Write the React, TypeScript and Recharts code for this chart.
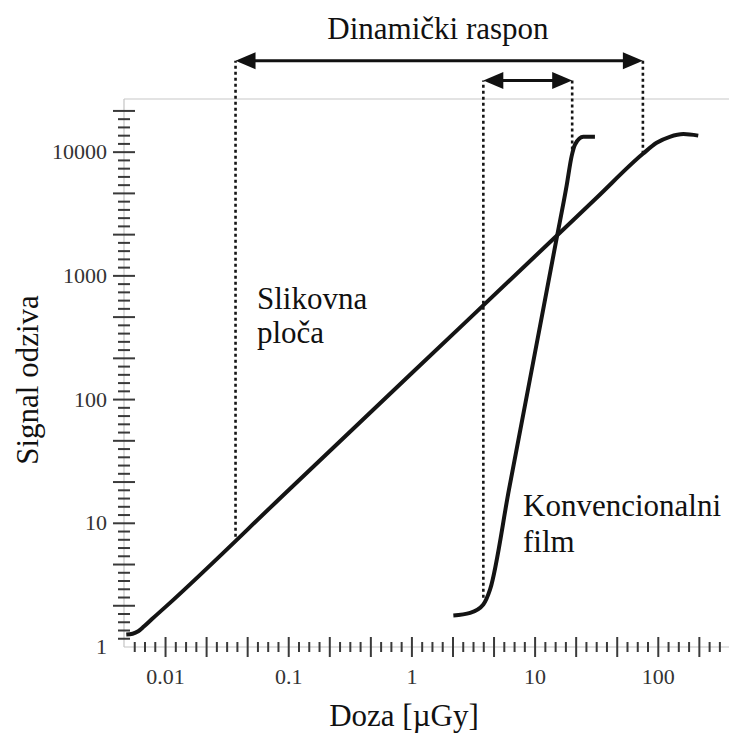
import React from 'react';
import { LineChart, Line, XAxis, YAxis, ReferenceLine } from 'recharts';

// Slikovna ploča (image plate) – doza [µGy] / signal
const PLATE_DOSE = [0.0048, 0.0054, 0.006, 0.0067, 0.0078, 0.01, 0.1, 1, 10, 31.6, 75, 97, 124, 160, 211];
const PLATE_SIGNAL = [1.26, 1.28, 1.34, 1.47, 1.69, 2.11, 18.6, 164, 1440, 4280, 9700, 11900, 13300, 14000, 13600];

// Konvencionalni film
const FILM_DOSE = [2.17, 2.97, 3.8, 4.31, 6.14, 9.08, 14.9, 18.0, 19.8, 21.1, 24.6, 30.6];
const FILM_SIGNAL = [1.8, 1.89, 2.21, 2.92, 18.8, 146, 1970, 5310, 9290, 11540, 13310, 13310];

// dynamic range markers: [doseFrom, doseTo], foot of each dashed line, arrow level
const PLATE_RANGE = [0.037, 75];
const PLATE_FOOT = [7.8, 9700];
const FILM_RANGE = [3.8, 20];
const FILM_FOOT = [2.5, 10500];
const ARROW_LEVEL = [54700, 38000];

const X_LABELS = [0.01, 0.1, 1, 10, 100];
const Y_LABELS = [1, 10, 100, 1000, 10000];
const X_DOMAIN = [0.0046, 375];
const Y_DOMAIN = [1, 26900];

// ruler-style ticks, evenly spaced in log space
const X_PER_DECADE = 12;
const Y_PER_DECADE = 15;
const xTicks: number[] = [];
for (let m = -27; m <= 30; m++) xTicks.push(10 ** (m / X_PER_DECADE));
const yTicks: number[] = [];
for (let k = 0; k <= 65; k++) yTicks.push(10 ** (k / Y_PER_DECADE));

const plate = PLATE_DOSE.map((x, i) => ({ x, y: PLATE_SIGNAL[i] }));
const film = FILM_DOSE.map((x, i) => ({ x, y: FILM_SIGNAL[i] }));

const FONT = 'Liberation Serif, DejaVu Serif, Times New Roman, serif';
const TICK_COLOR = '#3a3a3a';

const findLabel = (labels: number[], v: number) =>
  labels.find((l) => Math.abs(Math.log10(l) - Math.log10(v)) < 1e-6);

const XTick = ({ x, y, payload }: any) => {
  const m = Math.round(Math.log10(payload.value) * X_PER_DECADE);
  const major = m % 4 === 0;
  const h = major ? 10 : 5;
  const label = findLabel(X_LABELS, payload.value);
  return (
    <g>
      <line x1={x} x2={x} y1={y - h} y2={y + h} stroke={TICK_COLOR} strokeWidth={2} />
      {label !== undefined && (
        <text x={x} y={y + 37} textAnchor="middle" style={{ fontFamily: FONT, fontSize: 22 }} fill="#333">
          {String(label)}
        </text>
      )}
    </g>
  );
};

const YTick = ({ x, y, payload }: any) => {
  const k = Math.round(Math.log10(payload.value) * Y_PER_DECADE);
  const major = k % 5 === 0;
  const w = major ? 11 : 6;
  const label = findLabel(Y_LABELS, payload.value);
  return (
    <g>
      {k > 0 && <line x1={x - w} x2={x + w} y1={y} y2={y} stroke={TICK_COLOR} strokeWidth={2} />}
      {label !== undefined && (
        <text x={x - 17} y={y + 7} textAnchor="end" style={{ fontFamily: FONT, fontSize: 22 }} fill="#333">
          {String(label)}
        </text>
      )}
    </g>
  );
};

const Arrow = (p: any) => {
  const { x1, y1, x2, y2 } = p;
  const L = 20;
  const W = 8.5;
  return (
    <g>
      <line x1={x1 + L - 2} y1={y1} x2={x2 - L + 2} y2={y2} stroke="#111" strokeWidth={3} />
      <polygon points={`${x1},${y1} ${x1 + L},${y1 - W} ${x1 + L},${y1 + W}`} fill="#111" />
      <polygon points={`${x2},${y2} ${x2 - L},${y2 - W} ${x2 - L},${y2 + W}`} fill="#111" />
    </g>
  );
};

const dotted = { stroke: '#151515', strokeWidth: 2.6, strokeDasharray: '3 3', ifOverflow: 'visible' as const };
const textStyle = { fontFamily: FONT, fontSize: 31 };

export default function App() {
  return (
    <div style={{ position: 'absolute', left: 0, top: 0, width: 729, height: 733, background: '#fff' }}>
      <LineChart width={729} height={733} margin={{ top: 99, right: 0, bottom: 85, left: 123 }}>
        <XAxis
          dataKey="x"
          type="number"
          scale="log"
          domain={X_DOMAIN}
          allowDataOverflow
          ticks={xTicks}
          interval={0}
          tick={XTick}
          tickLine={false}
          tickSize={0}
          tickMargin={0}
          height={1}
          axisLine={{ stroke: '#c4c4c4', strokeWidth: 1.2 }}
        />
        <YAxis
          type="number"
          scale="log"
          domain={Y_DOMAIN}
          allowDataOverflow
          ticks={yTicks}
          interval={0}
          tick={YTick}
          tickLine={false}
          tickSize={0}
          tickMargin={0}
          width={1}
          axisLine={{ stroke: '#c4c4c4', strokeWidth: 1.2 }}
        />
        <ReferenceLine y={Y_DOMAIN[1]} stroke="#c8c8c8" strokeWidth={1.2} />

        <ReferenceLine segment={[{ x: PLATE_RANGE[0], y: PLATE_FOOT[0] }, { x: PLATE_RANGE[0], y: ARROW_LEVEL[0] }]} {...dotted} />
        <ReferenceLine segment={[{ x: PLATE_RANGE[1], y: PLATE_FOOT[1] }, { x: PLATE_RANGE[1], y: ARROW_LEVEL[0] }]} {...dotted} />
        <ReferenceLine segment={[{ x: FILM_RANGE[0], y: FILM_FOOT[0] }, { x: FILM_RANGE[0], y: ARROW_LEVEL[1] }]} {...dotted} />
        <ReferenceLine segment={[{ x: FILM_RANGE[1], y: FILM_FOOT[1] }, { x: FILM_RANGE[1], y: ARROW_LEVEL[1] }]} {...dotted} />

        <ReferenceLine
          segment={[{ x: PLATE_RANGE[0], y: ARROW_LEVEL[0] }, { x: PLATE_RANGE[1], y: ARROW_LEVEL[0] }]}
          ifOverflow="visible"
          shape={Arrow}
        />
        <ReferenceLine
          segment={[{ x: FILM_RANGE[0], y: ARROW_LEVEL[1] }, { x: FILM_RANGE[1], y: ARROW_LEVEL[1] }]}
          ifOverflow="visible"
          shape={Arrow}
        />

        <Line data={plate} dataKey="y" type="monotone" stroke="#141414" strokeWidth={4} dot={false} isAnimationActive={false} />
        <Line data={film} dataKey="y" type="monotone" stroke="#141414" strokeWidth={4} dot={false} isAnimationActive={false} />
      </LineChart>

      <svg width={729} height={733} style={{ position: 'absolute', left: 0, top: 0, pointerEvents: 'none' }}>
        <g fill="#111" style={textStyle}>
          <text x={438} y={39} textAnchor="middle">Dinamički raspon</text>
          <text x={257} y={309}>Slikovna</text>
          <text x={257} y={343}>ploča</text>
          <text x={523} y={516}>Konvencionalni</text>
          <text x={523} y={552}>film</text>
          <text x={404} y={726} textAnchor="middle">Doza [µGy]</text>
          <text x={38} y={380} textAnchor="middle" transform="rotate(-90 38 380)">Signal odziva</text>
        </g>
      </svg>
    </div>
  );
}
